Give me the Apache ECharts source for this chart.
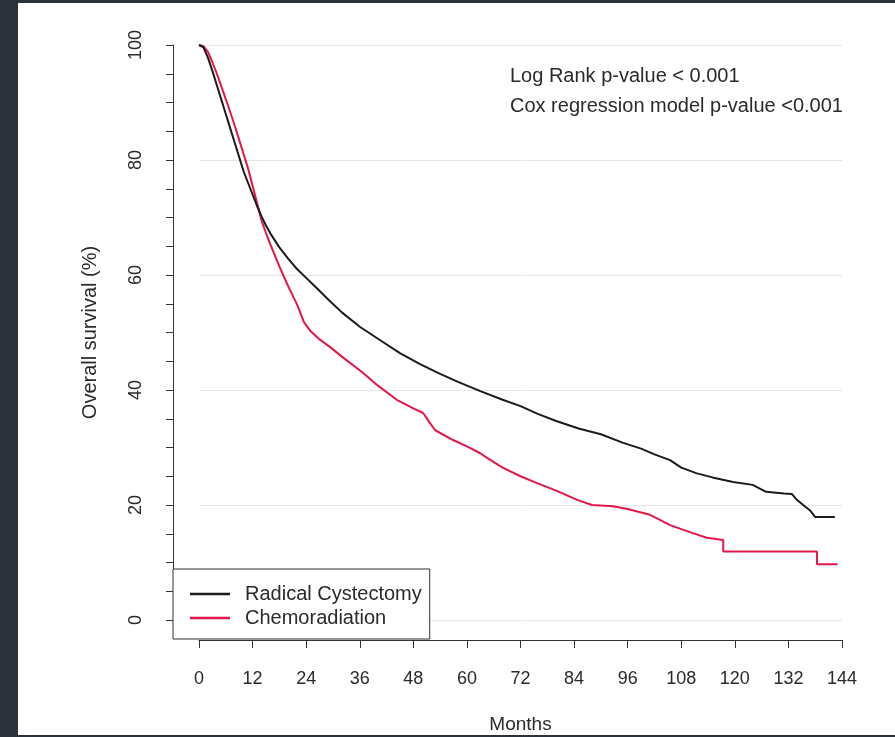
<!DOCTYPE html>
<html>
<head>
<meta charset="utf-8">
<script src="https://cdn.jsdelivr.net/npm/echarts@6/dist/echarts.min.js"></script>
<style>
  html, body { margin: 0; padding: 0; background: #2c313b; width: 895px; height: 737px; overflow: hidden; }
  #chart { position: absolute; left: 18px; top: 3px; width: 877px; height: 732px; background: #ffffff; }
</style>
</head>
<body>
<div id="chart"></div>
<script>
// Months and survival (%) for each arm
const rcMonths = [0, 1, 2, 3, 4, 5, 6, 7, 8, 9, 10, 11, 12, 13, 14, 15, 16, 18, 20, 22, 24, 26, 29, 32, 36, 40.5, 45, 49.5, 54, 58, 63, 68, 72, 76, 80, 85, 90, 95, 99, 102, 105.5, 108, 111.5, 115, 119.6, 124, 127, 131, 132.8, 133.9, 135.3, 136.8, 138, 142.4];
const rcSurv   = [100, 99.6, 97.8, 95.5, 93, 90.5, 88, 85.5, 83, 80.5, 78, 76, 74, 72, 70.2, 68.6, 67.2, 64.8, 62.8, 61, 59.5, 58, 55.7, 53.5, 51, 48.7, 46.4, 44.5, 42.8, 41.4, 39.8, 38.3, 37.2, 35.8, 34.6, 33.3, 32.3, 30.8, 29.8, 28.8, 27.8, 26.5, 25.5, 24.8, 24.0, 23.5, 22.3, 22.0, 21.9, 20.9, 20.0, 19.1, 17.9, 17.9];

const crMonths = [0, 1, 2, 3, 4, 5, 6, 7, 8, 9, 10, 11, 12, 13, 14, 15, 16, 18, 20, 22, 23.5, 25, 27, 29.3, 32, 36.7, 40, 44.3, 48, 50.2, 51.5, 52.9, 56.9, 60, 63, 64.5, 68, 72, 75.7, 80, 84.7, 88, 92.7, 96, 101, 103, 105.5, 108, 110.6, 113.7, 117.4, 117.4, 138.4, 138.4, 143];
const crSurv   = [100, 99.8, 98.8, 97, 95, 92.8, 90.6, 88.3, 86, 83.5, 81, 78.5, 75.5, 72.5, 69.5, 67.3, 65.3, 61.5, 58, 54.8, 51.8, 50.2, 48.8, 47.5, 45.8, 43, 40.8, 38.3, 36.8, 36, 34.5, 33, 31.3, 30.2, 29, 28.2, 26.5, 25, 23.8, 22.5, 20.9, 20, 19.8, 19.3, 18.3, 17.5, 16.5, 15.8, 15.1, 14.3, 13.9, 11.9, 11.9, 9.7, 9.7];

const seriesNames = ['Radical Cystectomy', 'Chemoradiation'];
const xTicks = [0, 144, 12];   // min, max, interval
const yTicks = [0, 100, 20];   // min, max, interval
const annotations = ['Log Rank p-value < 0.001', 'Cox regression model p-value <0.001'];

const FONT = '"Liberation Sans", Arial, Helvetica, sans-serif';
const TXT = '#2a2a2a';

const pairs = (xs, ys) => xs.map((x, i) => [x, ys[i]]);

const chart = echarts.init(document.getElementById('chart'), null, { renderer: 'canvas' });
chart.setOption({
  animation: false,
  backgroundColor: '#ffffff',
  textStyle: { fontFamily: FONT },
  grid: { left: 181, right: 53, top: 42, bottom: 115, outerBoundsMode: 'none', containLabel: false },
  xAxis: {
    type: 'value',
    min: xTicks[0], max: xTicks[1], interval: xTicks[2],
    offset: 20,
    name: 'Months',
    nameLocation: 'middle',
    nameGap: 75,
    nameTextStyle: { color: TXT, fontSize: 19, fontFamily: FONT },
    axisLine: { show: true, onZero: false, lineStyle: { color: '#333', width: 1 } },
    axisTick: { show: true, length: 8, lineStyle: { color: '#333' } },
    axisLabel: { color: TXT, fontSize: 18, margin: 30, fontFamily: FONT },
    splitLine: { show: false }
  },
  yAxis: {
    type: 'value',
    min: yTicks[0], max: yTicks[1], interval: yTicks[2],
    offset: 26,
    name: 'Overall survival (%)',
    nameLocation: 'middle',
    nameGap: 73,
    nameRotate: 90,
    nameTextStyle: { color: TXT, fontSize: 20, fontFamily: FONT },
    axisLine: { show: true, onZero: false, lineStyle: { color: '#333', width: 1 } },
    axisTick: { show: true, length: 7, lineStyle: { color: '#333' } },
    minorTick: { show: true, splitNumber: 4, length: 7, lineStyle: { color: '#333' } },
    axisLabel: { color: TXT, fontSize: 18, margin: 28, rotate: 90, fontFamily: FONT },
    splitLine: { show: true, lineStyle: { color: '#e6e6e6', width: 1 } }
  },
  legend: {
    show: true,
    orient: 'vertical',
    left: 155,
    top: 566,
    padding: [15, 8, 11, 17],
    itemGap: 4,
    itemWidth: 40,
    itemHeight: 2.5,
    icon: 'rect',
    backgroundColor: '#ffffff',
    borderColor: '#333',
    borderWidth: 1,
    borderRadius: 0,
    textStyle: { color: TXT, fontSize: 20, fontFamily: FONT, padding: [0, 0, 0, 10] },
    data: seriesNames
  },
  graphic: annotations.map((t, i) => ({
    type: 'text',
    left: 492,
    top: 63 + i * 30,
    style: { text: t, fill: TXT, font: '20px ' + FONT }
  })),
  series: [
    {
      name: seriesNames[0],
      type: 'line',
      data: pairs(rcMonths, rcSurv),
      showSymbol: false,
      symbol: 'none',
      clip: false,
      color: '#1b1b1b',
      lineStyle: { color: '#1b1b1b', width: 2 },
      z: 3
    },
    {
      name: seriesNames[1],
      type: 'line',
      data: pairs(crMonths, crSurv),
      showSymbol: false,
      symbol: 'none',
      clip: false,
      color: '#e3174a',
      lineStyle: { color: '#e3174a', width: 2 },
      z: 2
    }
  ]
});
</script>
</body>
</html>
